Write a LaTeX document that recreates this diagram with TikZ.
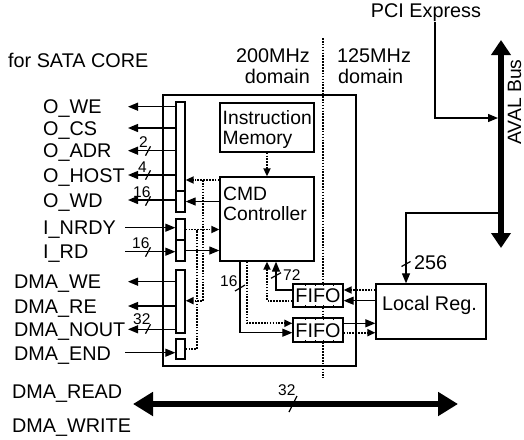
\documentclass[tikz,border=0pt]{standalone}
\usepackage{fontspec}
\setmainfont{Liberation Sans}
\usetikzlibrary{arrows.meta}
\tikzset{
  box/.style={draw,line width=1.3pt,inner sep=0pt},
  bar/.style={draw,line width=1.3pt,inner sep=0pt,minimum width=9pt},
  lbl/.style={inner sep=0pt,font=\fontsize{19.8}{21}\selectfont,text height=14.2pt,text depth=0pt},
  mlbl/.style={inner sep=0pt,align=left,font=\fontsize{19.3}{20}\selectfont},
  num/.style={inner sep=0pt,font=\fontsize{15.5}{16}\selectfont,text height=11.1pt,text depth=0pt},
  wire/.style={line width=1.2pt},
  sig/.style={wire,-{Triangle[length=10pt,width=8pt]}},
  dots/.style={line width=1.8pt,dash pattern=on 1.6pt off 1.3pt},
  dsig/.style={-{Triangle[length=8pt,width=7pt]}},
  bus/.style={line width=6pt},
  tick/.style={line width=1pt}
}

\begin{document}
\begin{tikzpicture}[x=1pt,y=-1pt]
  \useasboundingbox (0,0) rectangle (524,439);

  % clock domain border
  \draw[dots,line width=2.6pt] (323,38) -- (323,378);

  % titles
  \node[lbl,anchor=west] (sata) at (8,60) {for SATA CORE};
  \node[lbl,anchor=east] (clkA) at (310,55) {200MHz};
  \node[lbl,anchor=east] (clkAd) at (310,76.7) {domain};
  \node[lbl,anchor=west] (clkB) at (337,55) {125MHz};
  \node[lbl,anchor=west] (clkBd) at (338,76.7) {domain};
  \node[lbl] (pci) at (426,10.3) {PCI Express};
  \node[lbl,rotate=90,font=\fontsize{19.3}{20}\selectfont] (aval) at (514,102) {AVAL Bus};

  % blocks
  \node[box,minimum width=193pt,minimum height=271pt] (core) at (259.5,230.5) {};
  \node[box,minimum width=94pt,minimum height=49pt] (imem) at (267,127.5) {};
  \node[mlbl,anchor=north west] (imemt) at (222.5,110) {Instruction\\Memory};
  \node[box,minimum width=94pt,minimum height=84pt] (cmd) at (267,219) {};
  \node[mlbl,anchor=north west] (cmdt) at (223,186.5) {CMD\\Controller};
  \node[box,minimum width=110pt,minimum height=55pt] (lreg) at (431,311.5) {};
  \node[lbl] (lregt) at (429.5,303.3) {Local Reg.};

  \node[bar,minimum height=89pt] (barA) at (180.5,146.5) {};
  \node[bar,minimum height=21pt] (barW) at (180.5,201.5) {};
  \node[bar,minimum height=21pt] (barN) at (180.5,229.5) {};
  \node[bar,minimum height=21pt] (barR) at (180.5,250.5) {};
  \node[bar,minimum height=63pt] (barM) at (180.5,301.5) {};
  \node[bar,minimum height=20pt] (barE) at (180.5,349) {};

  \node[box,lbl,fill=white,minimum width=50pt,minimum height=23pt] (fifoU) at (318,295.5) {FIFO};
  \node[box,lbl,fill=white,minimum width=50pt,minimum height=24pt] (fifoD) at (318,330) {FIFO};
  \foreach \f in {fifoU,fifoD}
    \foreach \dx in {-13,-3,5,15} {
      \draw[tick] ([xshift=\dx pt]\f.north) -- ++(0,3);
      \draw[tick] ([xshift=\dx pt]\f.south) -- ++(0,-3);
    }

  % SATA side signals
  \foreach \txt/\y/\n in {O\_WE/106.7/owe,O\_CS/128/ocs,O\_ADR/150.7/oadr,O\_HOST/175/ohost} {
    \node[lbl,anchor=west] (\n) at (43,\y) {\txt};
    \coordinate (\n-tip) at (128,\y);
    \draw[sig] (barA.west |- \n-tip) -- (\n-tip);
  }
  \node[lbl,anchor=west] (owd) at (43,200) {O\_WD};
  \coordinate (owd-tip) at (128,200);
  \draw[sig] (barW.west |- owd-tip) -- (owd-tip);

  \foreach \txt/\y/\n/\b in {I\_NRDY/227.7/inrdy/barN,I\_RD/251.7/ird/barR} {
    \node[lbl,anchor=west] (\n) at (43,\y) {\txt};
    \coordinate (\n-src) at (125,\y);
    \draw[sig] (\n-src) -- (\b.west |- \n-src);
  }

  \foreach \txt/\y/\n in {DMA\_WE/281.7/dwe,DMA\_RE/306/dre,DMA\_NOUT/329.3/dnout} {
    \node[lbl,anchor=west] (\n) at (14,\y) {\txt};
    \coordinate (\n-tip) at (128,\y);
    \draw[sig] (barM.west |- \n-tip) -- (\n-tip);
  }
  \node[lbl,anchor=west] (dend) at (14,353) {DMA\_END};
  \coordinate (dend-src) at (125,352.7);
  \draw[sig] (dend-src) -- (barE.west |- dend-src);

  \node[lbl,anchor=west] (dread) at (12,391.7) {DMA\_READ};
  \node[lbl,anchor=west] (dwrite) at (12,425) {DMA\_WRITE};

  % bus widths
  \foreach \y in {151,175,201,252,329}
    \draw[wire] (148,\y) ++(-2.5,4.7) -- ++(5,-9.4);
  \node[num,anchor=west] at (139,142) {2};
  \node[num,anchor=west] at (138,167) {4};
  \node[num,anchor=west] at (133,192) {16};
  \node[num,anchor=west] at (132,243) {16};
  \node[num,anchor=west] at (133,318.5) {32};

  % control paths
  \draw[dots,dsig] (imem.south) -- (cmd.north);
  \coordinate (jA) at (203,180);
  \coordinate (jB) at (203,300.7);
  \draw[dots,dsig] (cmd.west |- jA) -- (barA.east |- jA);
  \draw[dots,dsig] (jA) -- (jB) -- (barM.east |- jB);
  \draw[sig] (cmd.west |- barW.east) -- (barW.east);
  \coordinate (jC) at (197,229.5);
  \draw[dots,dsig] (barN.east) -- (cmd.west |- barN.east);
  \draw[dots] (barE.east) -- (barE.east -| jC) -- (jC);
  \draw[sig] (barR.east) -- (cmd.west |- barR.east);

  % CMD <-> FIFO
  \coordinate (cS) at (240,332.7);
  \coordinate (cD) at (247.3,323.3);
  \coordinate (fS) at (276,290);
  \coordinate (fD) at (267,300.7);
  \draw[sig] (cmd.south -| cS) -- (cS) -- (fifoD.west |- cS);
  \draw[dots,dsig] (cmd.south -| cD) -- (cD) -- (fifoD.west |- cD);
  \draw[sig] (fifoU.west |- fS) -- (fS) -- (cmd.south -| fS);
  \draw[dots,dsig] (fifoU.west |- fD) -- (fD) -- (cmd.south -| fD);
  \draw[wire] (240,288) ++(-5,3) -- ++(10,-6);
  \draw[wire] (276,275.5) ++(-5,2.8) -- ++(10,-5.6);
  \node[num,anchor=west] at (220,281) {16};
  \node[num,anchor=west] at (283,274.5) {72};

  % FIFO <-> Local Reg.
  \draw[dots,dsig] (lreg.west |- fS) -- (fifoU.east |- fS);
  \draw[sig] (lreg.west |- fD) -- (fifoU.east |- fD);
  \draw[sig] (fifoD.east |- cD) -- (lreg.west |- cD);
  \draw[dots,dsig] (fifoD.east |- cS) -- (lreg.west |- cS);

  % AVAL bus
  \coordinate (avT) at (501,40);
  \coordinate (avB) at (501,248);
  \coordinate (pciS) at (435,22);
  \coordinate (pciK) at (435,118);
  \coordinate (lk) at (406,213);
  \draw[sig] (pciS) -- (pciK) -- ([xshift=-3pt]avT |- pciK);
  \draw[sig] (avT |- lk) -- (lk) -- (lreg.north -| lk);
  \draw[bus,{Triangle[length=15pt,width=19pt]}-{Triangle[length=15pt,width=19pt]}] (avT) -- (avB);
  \draw[wire] (406,264) ++(-4.5,2.5) -- ++(9,-5);
  \node[lbl,anchor=west] (w256) at (414,262) {256};

  % DMA bus
  \coordinate (dmaL) at (133,404);
  \coordinate (dmaR) at (458,404);
  \draw[bus,{Triangle[length=20pt,width=23pt]}-{Triangle[length=20pt,width=23pt]}] (dmaL) -- (dmaR);
  \draw[wire] (293,404) ++(-4,8) -- ++(8,-16);
  \node[num,anchor=west] at (278,389.5) {32};
\end{tikzpicture}
\end{document}
